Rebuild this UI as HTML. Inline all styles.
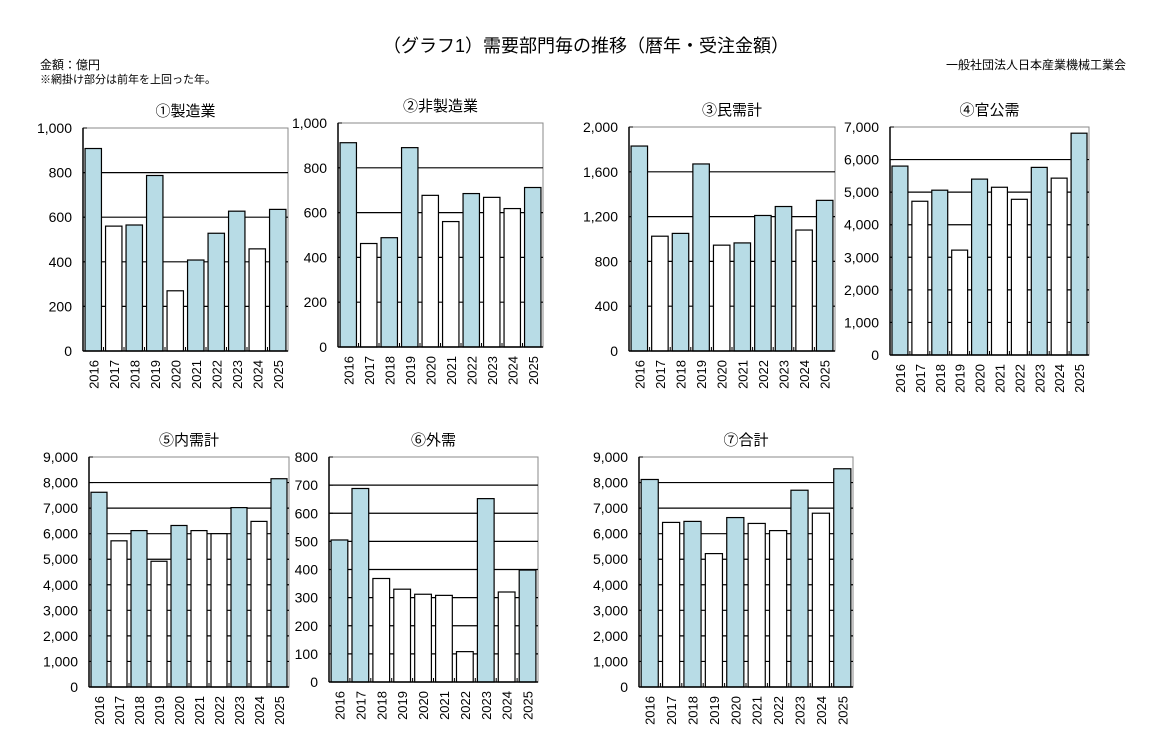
<!DOCTYPE html>
<html><head><meta charset="utf-8">
<style>
body{margin:0;width:1173px;height:750px;background:#fff;overflow:hidden;font-family:"Liberation Sans","Noto Sans CJK JP",sans-serif;}
svg text{font-family:"Liberation Sans","Noto Sans CJK JP",sans-serif;fill:#000;}
</style></head>
<body>
<svg id="root" width="1173" height="750" xmlns="http://www.w3.org/2000/svg">
<text x="586" y="52" font-size="18" text-anchor="middle">（グラフ1）需要部門毎の推移（暦年・受注金額）</text>
<text x="40" y="69" font-size="12">金額：億円</text>
<text x="40" y="83" font-size="11">※網掛け部分は前年を上回った年。</text>
<text x="1126" y="69" font-size="12" text-anchor="end">一般社団法人日本産業機械工業会</text>
</svg>
<script>
const years=["2016","2017","2018","2019","2020","2021","2022","2023","2024","2025"];
const v1=[908,560,565,787,270,408,528,627,458,635];
const v2=[912,462,488,890,677,560,685,668,618,712];
const v3=[1830,1025,1050,1670,945,965,1210,1290,1080,1345];
const v4=[5800,4720,5060,3220,5400,5150,4780,5760,5430,6810];
const v5=[7620,5720,6120,4920,6320,6120,6000,7020,6480,8150];
const v6=[505,688,368,330,312,308,108,652,320,398];
const v7=[8120,6440,6480,5220,6630,6400,6120,7700,6800,8540];
const ticks1=[0,200,400,600,800,1000];
const ticks3=[0,400,800,1200,1600,2000];
const ticks4=[0,1000,2000,3000,4000,5000,6000,7000];
const ticks5=[0,1000,2000,3000,4000,5000,6000,7000,8000,9000];
const ticks6=[0,100,200,300,400,500,600,700,800];
const titles=["①製造業","②非製造業","③民需計","④官公需","⑤内需計","⑥外需","⑦合計"];
const NS="http://www.w3.org/2000/svg";
const root=document.getElementById('root');
function mk(tag,attrs,parent){const e=document.createElementNS(NS,tag);for(const k in attrs)e.setAttribute(k,attrs[k]);(parent||root).appendChild(e);return e;}
function fmt(n){return n.toLocaleString('en-US');}
function chart(idx,vals,ticks,x0,x1,y0,y1){
  const g=mk('g',{});
  
  
  const max=ticks[ticks.length-1];
  const ys=v=>y1-(v/max)*(y1-y0);
  const slot=(x1-x0)/vals.length;
  const t=mk('text',{x:(x0+x1)/2,y:y0-12,'font-size':15,'text-anchor':'middle'},g);
  t.textContent=titles[idx];
  
  
  mk('rect',{x:x0,y:y0,width:x1-x0,height:y1-y0,fill:'none',stroke:'#888','stroke-width':1},g);
  ticks.forEach(tv=>{
    const y=ys(tv);
    if(tv>0&&tv<max){const gl=mk('line',{x1:x0,x2:x1,y1:y,y2:y,stroke:'#000','stroke-width':1.2},g);
      
      }
    mk('line',{x1:x0,x2:x0+4,y1:y,y2:y,stroke:'#000'},g);
    const tl=mk('text',{x:x0-11,y:y+5,'font-size':14,'text-anchor':'end'},g);
    tl.textContent=fmt(tv);
    
    
  });
  vals.forEach((v,i)=>{
    const bw=slot*0.8;
    const bx=x0+i*slot+(slot-bw)/2;
    const up=i===0||v>vals[i-1];
    const b=mk('rect',{x:bx,y:ys(v),width:bw,height:y1-ys(v),fill:up?'#b8dce6':'#fff',stroke:'#000','stroke-width':1.2},g);
    
    
    mk('line',{x1:x0+i*slot,x2:x0+i*slot,y1:y1,y2:y1-4,stroke:'#000'},g);
    const cx=x0+i*slot+slot/2+5;
    const xl=mk('text',{x:cx,y:y1+9,'font-size':13,'text-anchor':'end',transform:`rotate(-90 ${cx} ${y1+9})`},g);
    xl.textContent=years[i];
    
    
  });
  mk('line',{x1:x0,x2:x0,y1:y0,y2:y1,stroke:'#000','stroke-width':1.5},g);
  mk('line',{x1:x0,x2:x1,y1:y1,y2:y1,stroke:'#000','stroke-width':1.5},g);
}
chart(0,v1,ticks1,83,288,128,351);
chart(1,v2,ticks1,338,543,123,347);
chart(2,v3,ticks3,629,835,127,351);
chart(3,v4,ticks4,890,1089,127,355);
chart(4,v5,ticks5,89,289,457,687);
chart(5,v6,ticks6,329,538,457,682);
chart(6,v7,ticks5,639,853,457,687);
</script>
</body></html>
